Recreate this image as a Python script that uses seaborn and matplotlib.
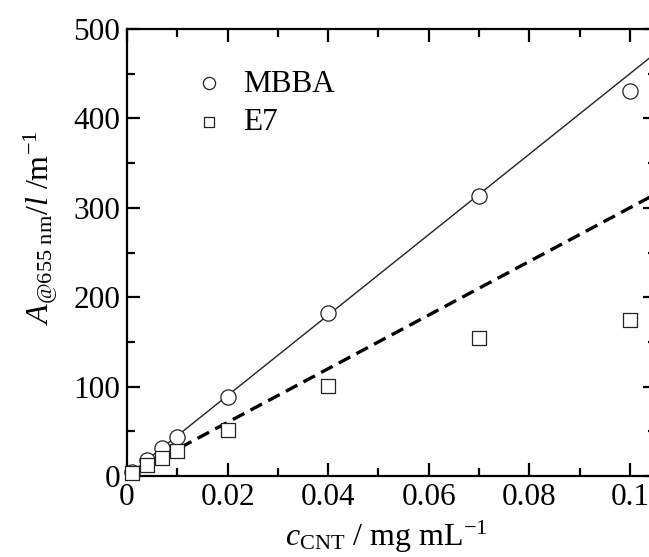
import numpy as np
import pandas as pd
import matplotlib
matplotlib.use("Agg")
import matplotlib.pyplot as plt
import seaborn as sns
from matplotlib.ticker import MultipleLocator, FuncFormatter

# CNT concentration (mg/mL) and attenuation coefficient at 655 nm (1/m)
conc = [0.001, 0.004, 0.007, 0.01, 0.02, 0.04, 0.07, 0.1]
mbba = [4, 18, 31, 44, 88, 182, 313, 431]
e7 = [3, 12, 20, 28, 51, 101, 154, 174]

# Linear fits through the origin (slope in m^-1 per mg/mL)
mbba_slope = 4500
e7_slope = 3000
fit_x = [0.0, 0.106]

sns.set_theme(style="ticks")
plt.rcParams["font.family"] = ["Liberation Serif", "DejaVu Serif"]
plt.rcParams["mathtext.fontset"] = "custom"
plt.rcParams["mathtext.rm"] = "Liberation Serif"
plt.rcParams["mathtext.it"] = "Liberation Serif:italic"
plt.rcParams["mathtext.bf"] = "Liberation Serif:bold"
for key in ["text.color", "axes.labelcolor", "xtick.color", "ytick.color"]:
    plt.rcParams[key] = "black"

FS = 22.5

df = pd.DataFrame({
    "conc": conc * 2,
    "A": mbba + e7,
    "sample": ["MBBA"] * len(conc) + ["E7"] * len(conc),
})
fits = pd.DataFrame({
    "conc": fit_x * 2,
    "A": [mbba_slope * v for v in fit_x] + [e7_slope * v for v in fit_x],
    "sample": ["MBBA"] * 2 + ["E7"] * 2,
})

fig = plt.figure(figsize=(6.49, 5.57), dpi=100)
ax = fig.add_axes([127 / 649, 1 - 476 / 557, (656 - 127) / 649, (476 - 29) / 557])

sns.lineplot(data=fits[fits["sample"] == "MBBA"], x="conc", y="A", ax=ax,
             color="#222222", lw=1.0, legend=False)
sns.lineplot(data=fits[fits["sample"] == "E7"], x="conc", y="A", ax=ax,
             color="black", lw=2.4, dashes=False, legend=False)
ax.lines[-1].set_dashes([3.9, 2.1])

sizes = {"MBBA": 120, "E7": 95}
markers = {"MBBA": "o", "E7": "s"}
for name in ["MBBA", "E7"]:
    sub = df[df["sample"] == name]
    sns.scatterplot(data=sub, x="conc", y="A", ax=ax, marker=markers[name],
                    s=sizes[name], facecolors="white", edgecolors="#222222",
                    linewidths=0.9, label=name, zorder=3, clip_on=False)

ax.set_xlim(0, 0.1052)
ax.set_ylim(0, 500)
ax.xaxis.set_major_locator(MultipleLocator(0.02))
ax.xaxis.set_minor_locator(MultipleLocator(0.01))
ax.yaxis.set_major_locator(MultipleLocator(100))
ax.yaxis.set_minor_locator(MultipleLocator(50))
ax.xaxis.set_major_formatter(FuncFormatter(lambda v, p: "0" if abs(v) < 1e-9 else f"{v:.2f}".rstrip("0")))

for side in ["left", "right", "top", "bottom"]:
    ax.spines[side].set_visible(True)
    ax.spines[side].set_linewidth(1.6)
    ax.spines[side].set_color("black")
ax.tick_params(which="both", direction="in", top=True, right=True,
               width=1.6, color="black", labelsize=FS, pad=5)
ax.tick_params(which="major", length=9.5)
ax.tick_params(which="minor", length=6)

ax.set_xlabel(r"$c_{\mathrm{CNT}}$ / mg mL$^{-1}$", fontsize=FS + 0.5)
ax.set_ylabel(r"$A_{\mathrm{@655\ nm}}/l$ /m$^{-1}$", fontsize=FS + 0.5)
ax.yaxis.set_label_coords(-0.127, 0.555)
ax.xaxis.set_label_coords(0.49, -0.096)
ax.xaxis.label.set_va("top")

leg = ax.legend(loc="upper left", bbox_to_anchor=(178 / 649, 1 - 54 / 557),
                bbox_transform=fig.transFigure, frameon=False, fontsize=FS,
                handlelength=1.0, handletextpad=0.6, borderpad=0,
                labelspacing=0.3, markerscale=0.8)

fig.savefig("out.png", dpi=100, facecolor="white")
